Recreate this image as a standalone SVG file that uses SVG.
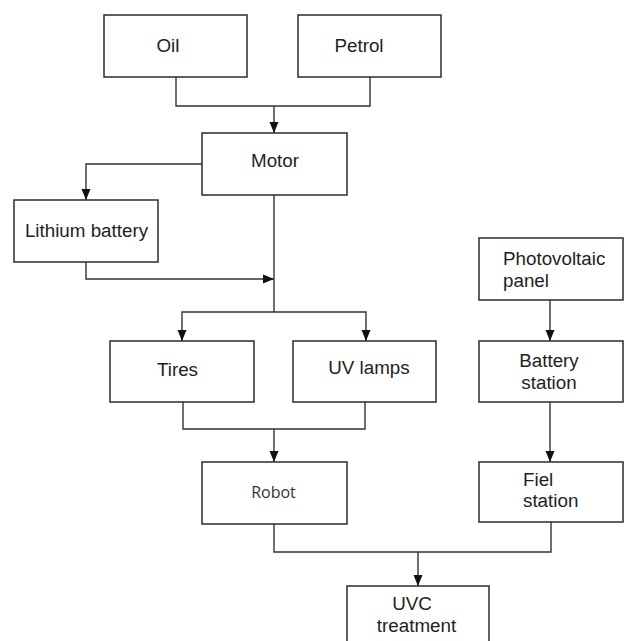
<svg xmlns="http://www.w3.org/2000/svg" width="631" height="641" viewBox="0 0 631 641">
<style>
.box{fill:#fff;stroke:#2b2b2b;stroke-width:1.5}
.t{font-family:"Liberation Sans",Arial,sans-serif;font-size:18.8px;fill:#1e1e1e;text-anchor:middle}
.tl{text-anchor:start}
.r{font-family:"Open Sans","Noto Sans",sans-serif;font-size:16px;fill:#333}
.c{fill:none;stroke:#333;stroke-width:1.4}
</style>
<defs>
<marker id="ah" markerUnits="userSpaceOnUse" markerWidth="11" markerHeight="11" viewBox="0 0 11 11" refX="11" refY="5.5" orient="auto">
<path d="M0,1 L11,5.5 L0,10 Z" fill="#111"/>
</marker>
</defs>
<rect width="631" height="641" fill="#fff"/>
<g id="connectors">
<path class="c" d="M176,77 V106 H370 V77"/>
<path class="c" d="M274,106 V133" marker-end="url(#ah)"/>
<path class="c" d="M202,164 H86 V200" marker-end="url(#ah)"/>
<path class="c" d="M274,195 V312"/>
<path class="c" d="M86,262 V279 H274" marker-end="url(#ah)"/>
<path class="c" d="M182,340 V312 H366 V340"/>
<path class="c" d="M182,330 V341" marker-end="url(#ah)"/>
<path class="c" d="M366,330 V341" marker-end="url(#ah)"/>
<path class="c" d="M183,402 V429 H365 V402"/>
<path class="c" d="M274,429 V462" marker-end="url(#ah)"/>
<path class="c" d="M550,300 V341" marker-end="url(#ah)"/>
<path class="c" d="M550,402 V462" marker-end="url(#ah)"/>
<path class="c" d="M274,524 V552 H551 V522"/>
<path class="c" d="M418,552 V586" marker-end="url(#ah)"/>
</g>
<g id="oil"><rect class="box" x="104" y="15" width="143" height="62"/><text class="t" x="168" y="52">Oil</text></g>
<g id="petrol"><rect class="box" x="298" y="15" width="143" height="62"/><text class="t" x="359" y="52">Petrol</text></g>
<g id="motor"><rect class="box" x="202" y="133" width="145" height="62"/><text class="t" x="275" y="167">Motor</text></g>
<g id="lithium"><rect class="box" x="14" y="200" width="144" height="62"/><text class="t" x="86.5" y="237">Lithium battery</text></g>
<g id="tires"><rect class="box" x="110" y="341" width="144" height="61"/><text class="t" x="177.5" y="376">Tires</text></g>
<g id="uvlamps"><rect class="box" x="293" y="341" width="143" height="61"/><text class="t" x="369" y="374">UV lamps</text></g>
<g id="robot"><rect class="box" x="202" y="462" width="145" height="62"/><text class="r" x="273.5" y="498" text-anchor="middle">Robot</text></g>
<g id="pv"><rect class="box" x="479" y="238" width="144" height="62"/><text class="t tl" x="503" y="265">Photovoltaic</text><text class="t tl" x="503" y="287">panel</text></g>
<g id="battery"><rect class="box" x="479" y="341" width="144" height="61"/><text class="t" x="549" y="367">Battery</text><text class="t" x="549" y="389">station</text></g>
<g id="fiel"><rect class="box" x="479" y="462" width="144" height="60"/><text class="t tl" x="523" y="486">Fiel</text><text class="t tl" x="523" y="507">station</text></g>
<g id="uvc"><rect class="box" x="347" y="586" width="142" height="70"/><text class="t" x="412" y="610">UVC</text><text class="t" x="416.5" y="632">treatment</text></g>
</svg>
